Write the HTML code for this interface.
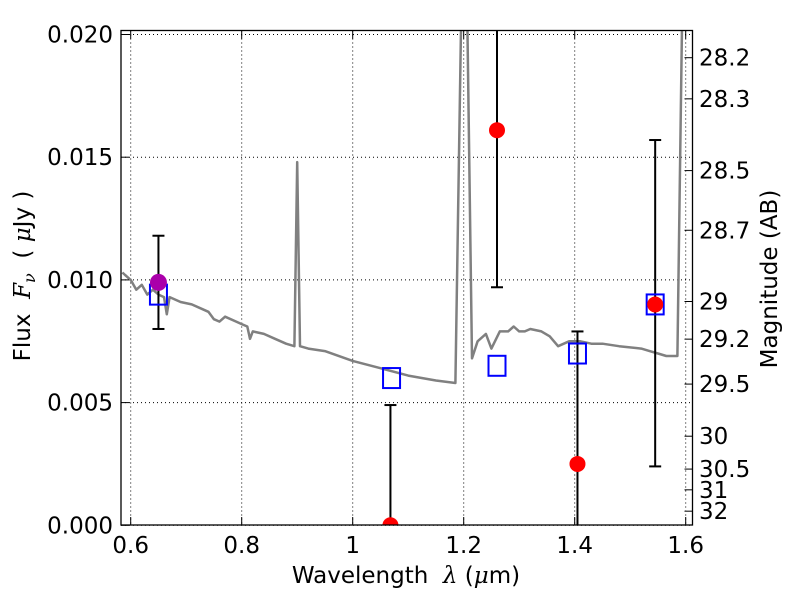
<!DOCTYPE html>
<html><head><meta charset="utf-8"><style>
body{margin:0;background:#fff;}
svg text{font-family:"DejaVu Sans","Liberation Sans",sans-serif;fill:#000;white-space:pre;}
.m{font-family:"DejaVu Serif","Liberation Serif",serif;font-style:italic;}
</style></head><body>
<svg id="chart" width="800" height="600" viewBox="0 0 800 600" xmlns="http://www.w3.org/2000/svg">
<defs><clipPath id="pc"><rect x="121" y="30.5" width="571.5" height="494.5"/></clipPath></defs>
<rect x="0" y="0" width="800" height="600" fill="#fff"/>
<g id="grid"></g>
<g id="spec" clip-path="url(#pc)"></g>
<g id="marks" clip-path="url(#pc)"></g>
<rect x="121" y="30.5" width="571.5" height="494.5" fill="none" stroke="#000" stroke-width="1.3"/>
<g id="axes"></g>
<text x="406" y="583" font-size="23" text-anchor="middle">Wavelength  <tspan class="m">λ</tspan> (<tspan class="m">μ</tspan>m)</text>
<text transform="translate(30,276) rotate(-90)" font-size="23" text-anchor="middle">Flux  <tspan class="m">F<tspan font-size="16" dy="5">ν</tspan></tspan><tspan dy="-5">  ( </tspan><tspan class="m">μ</tspan>Jy )</text>
<text transform="translate(777,279) rotate(-90)" font-size="23" text-anchor="middle">Magnitude (AB)</text>
</svg>
<script>
const xTicks=[0.6,0.8,1,1.2,1.4,1.6];
const xTickLabels=["0.6","0.8","1","1.2","1.4","1.6"];
const yTicks=[0,0.005,0.01,0.015,0.02];
const yTickLabels=["0.000","0.005","0.010","0.015","0.020"];
const magTicks=[28.2,28.3,28.5,28.7,29,29.2,29.5,30,30.5,31,32];
const specWave=[0.585,0.59,0.60,0.61,0.62,0.63,0.64,0.65,0.66,0.665,0.67,0.69,0.71,0.73,0.74,0.75,0.76,0.77,0.79,0.80,0.81,0.815,0.82,0.84,0.86,0.88,0.895,0.90,0.905,0.92,0.95,1.0,1.05,1.1,1.15,1.185,1.195,1.20,1.205,1.215,1.225,1.24,1.25,1.265,1.28,1.29,1.30,1.31,1.32,1.34,1.355,1.37,1.39,1.41,1.43,1.45,1.48,1.52,1.535,1.55,1.565,1.585,1.595,1.60];
const specFlux=[0.0103,0.0102,0.0100,0.0096,0.0098,0.0094,0.0096,0.0094,0.0093,0.0086,0.0093,0.0091,0.0090,0.0088,0.0087,0.0084,0.0083,0.0085,0.0083,0.0082,0.0081,0.0076,0.0079,0.0078,0.0076,0.0074,0.0073,0.0148,0.0073,0.0072,0.0071,0.0067,0.0064,0.0061,0.0059,0.0058,0.0200,0.0230,0.0230,0.0068,0.0075,0.0078,0.0072,0.0079,0.0079,0.0081,0.0079,0.0079,0.0080,0.0079,0.0077,0.0073,0.0075,0.0075,0.0074,0.0074,0.0073,0.0072,0.0071,0.0070,0.0069,0.0069,0.0230,0.0240];
const modelWave=[0.65,1.07,1.26,1.405,1.545];
const modelFlux=[0.0094,0.0060,0.0065,0.0070,0.0090];
const obsWave=[1.068,1.26,1.405,1.545];
const obsFlux=[0.0,0.0161,0.0025,0.0090];
const obsLo=[-0.002,0.0097,-0.002,0.0024];
const obsHi=[0.0049,0.025,0.0079,0.0157];
const magWave=[0.65];
const magFlux=[0.0099];
const magLo=[0.0080];
const magHi=[0.0118];

const X=v=>130.7+(v-0.6)*555;
const Y=v=>525.3-v*24540;
const NS="http://www.w3.org/2000/svg";
function mk(tag,attrs,parent){const e=document.createElementNS(NS,tag);for(const k in attrs)e.setAttribute(k,attrs[k]);parent.appendChild(e);return e;}
const grid=document.getElementById('grid'),axes=document.getElementById('axes'),spec=document.getElementById('spec'),marks=document.getElementById('marks');
xTicks.forEach((t,i)=>{
 const g=mk('line',{x1:X(t),x2:X(t),y1:30.5,y2:525,stroke:'#000','stroke-width':1,'stroke-dasharray':'1,3'},grid);
 
 mk('line',{x1:X(t),x2:X(t),y1:525,y2:517,stroke:'#000'},axes);
 mk('line',{x1:X(t),x2:X(t),y1:30.5,y2:38.5,stroke:'#000'},axes);
 const tx=mk('text',{x:X(t),y:553,'font-size':23,'text-anchor':'middle'},axes);tx.textContent=xTickLabels[i];
 
});
yTicks.forEach((t,i)=>{
 const g=mk('line',{x1:121,x2:692.5,y1:Y(t),y2:Y(t),stroke:'#000','stroke-width':1,'stroke-dasharray':'1,3'},grid);
 
 mk('line',{x1:121,x2:129,y1:Y(t),y2:Y(t),stroke:'#000'},axes);
 const tx=mk('text',{x:113,y:Y(t)+8,'font-size':23,'text-anchor':'end'},axes);tx.textContent=yTickLabels[i];
 
});
magTicks.forEach(m=>{
 const f=Math.pow(10,(23.9-m)/2.5);const y=Y(f);
 mk('line',{x1:684.5,x2:692.5,y1:y,y2:y,stroke:'#000'},axes);
 const tx=mk('text',{x:699,y:y+8,'font-size':23},axes);tx.textContent=String(m);
 
});
const pts=specWave.map((w,i)=>X(w).toFixed(1)+','+Y(specFlux[i]).toFixed(1)).join(' ');
const pl=mk('polyline',{points:pts,fill:'none',stroke:'#808080','stroke-width':2.5,'stroke-linejoin':'round'},spec);

function errbar(w,lo,hi,name){
 const g=mk('g',{},marks);
 
 mk('line',{x1:X(w),x2:X(w),y1:Y(lo),y2:Y(hi),stroke:'#000','stroke-width':2},g);
 mk('line',{x1:X(w)-6,x2:X(w)+6,y1:Y(lo),y2:Y(lo),stroke:'#000','stroke-width':2},g);
 mk('line',{x1:X(w)-6,x2:X(w)+6,y1:Y(hi),y2:Y(hi),stroke:'#000','stroke-width':2},g);
}
obsWave.forEach((w,i)=>errbar(w,obsLo[i],obsHi[i],'error-bar'));
magWave.forEach((w,i)=>errbar(w,magLo[i],magHi[i],'error-bar'));
modelWave.forEach((w,i)=>{
 const r=mk('rect',{x:X(w)-8.5,y:Y(modelFlux[i])-10,width:17,height:20,fill:'none',stroke:'#0000ff','stroke-width':2},marks);
 
});
obsWave.forEach((w,i)=>{
 const c=mk('circle',{cx:X(w),cy:Y(obsFlux[i]),r:8,fill:'#ff0000'},marks);
 
});
magWave.forEach((w,i)=>{
 const c=mk('circle',{cx:X(w),cy:Y(magFlux[i]),r:8.5,fill:'#aa00aa'},marks);
 
});
</script>
</body></html>
